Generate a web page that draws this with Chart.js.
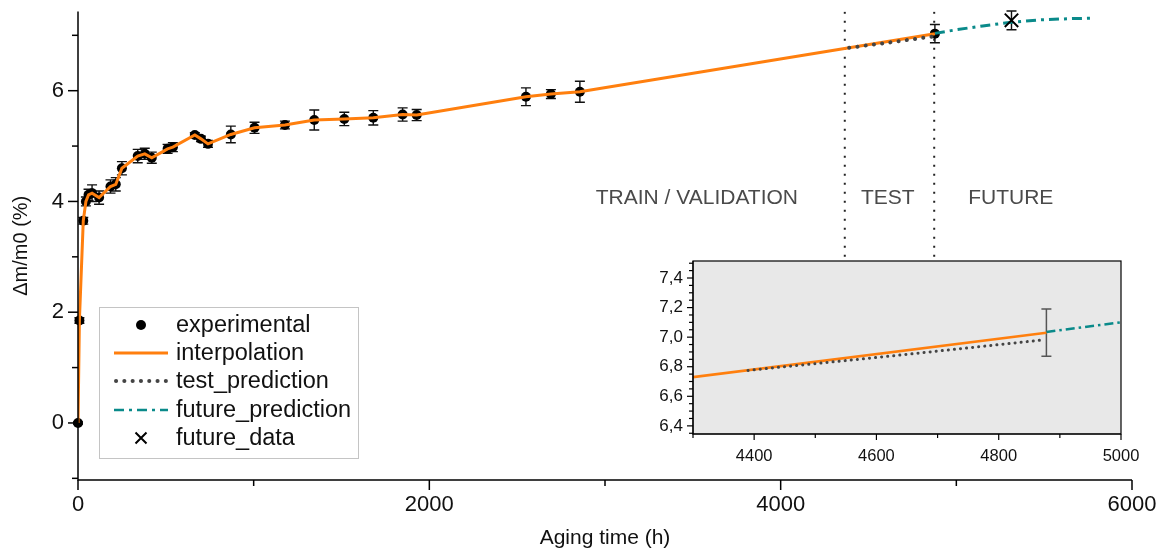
<!DOCTYPE html>
<html><head><meta charset="utf-8">
<script src="https://cdn.jsdelivr.net/npm/chart.js@4/dist/chart.umd.min.js"></script>
<style>
html,body{margin:0;padding:0;background:#fff;}
#wrap{position:relative;width:1167px;height:551px;overflow:hidden;}
#main{position:absolute;left:0;top:0;}
#inset{position:absolute;left:630px;top:250px;}
</style></head><body>
<div id="wrap"><canvas id="main" width="1167" height="551"></canvas><canvas id="inset" width="537" height="230"></canvas></div>
<script>
// ---------- data ----------
const expX = [0, 8, 30, 45, 60, 80, 120, 185, 215, 250, 340, 380, 420, 510, 540, 665, 700, 740, 870, 1005, 1178, 1345, 1516, 1681, 1848, 1928, 2550, 2692, 2857, 4878];
const expY = [0, 1.85, 3.65, 4.0, 4.12, 4.15, 4.07, 4.27, 4.31, 4.6, 4.82, 4.86, 4.79, 4.95, 4.98, 5.2, 5.13, 5.04, 5.21, 5.33, 5.38, 5.47, 5.49, 5.51, 5.57, 5.56, 5.89, 5.94, 5.98, 7.03];
const expErr = [0.02, 0.05, 0.06, 0.08, 0.1, 0.15, 0.12, 0.12, 0.12, 0.12, 0.12, 0.1, 0.1, 0.08, 0.08, 0.04, 0.05, 0.06, 0.15, 0.1, 0.07, 0.18, 0.12, 0.13, 0.12, 0.1, 0.16, 0.08, 0.19, 0.165];
const testX = [4390, 4630, 4870];
const testY = [6.775, 6.875, 6.98];
const futX = [4878, 5000, 5150, 5314, 5476, 5640, 5770];
const futY = [7.035, 7.10, 7.17, 7.235, 7.28, 7.30, 7.31];
const futDataX = [5314];
const futDataY = [7.27];
const futDataErr = [0.17];
const dividerX = [4365, 4874];
const dividerY = [3.0, 7.43];
const phaseLabels = ['TRAIN / VALIDATION', 'TEST', 'FUTURE'];
const phaseX = [3523, 4610, 5310];
const phaseY = [4.06, 4.06, 4.06];
const legendLabels = ['experimental', 'interpolation', 'test_prediction', 'future_prediction', 'future_data'];
const xTicks = [0, 1000, 2000, 3000, 4000, 5000, 6000];
const xTickLabels = [0, 2000, 4000, 6000];
const yTicks = [-1, 0, 1, 2, 3, 4, 5, 6, 7];
const yTickLabels = [0, 2, 4, 6];
const insetXTicks = [4300, 4400, 4500, 4600, 4700, 4800, 4900, 5000];
const insetXLabels = [4400, 4600, 4800, 5000];
const insetYTicks = [6.35, 6.4, 6.45, 6.5, 6.55, 6.6, 6.65, 6.7, 6.75, 6.8, 6.85, 6.9, 6.95, 7.0, 7.05, 7.1, 7.15, 7.2, 7.25, 7.3, 7.35, 7.4, 7.45, 7.5];
const insetYLabels = [6.4, 6.6, 6.8, 7.0, 7.2, 7.4];
const insetErrX = [4878];
const insetErrLow = [6.87];
const insetErrHigh = [7.19];

// ---------- styles ----------
const ORANGE = '#ff7f0e', TEAL = '#0a8a8a', DOTS = '#444444';
Chart.defaults.font.family = "'Liberation Sans', Arial, sans-serif";
Chart.defaults.color = '#111';
const pts = (xs, ys) => xs.map((x, i) => ({x, y: ys[i]}));
const has = (arr, v) => arr.some(a => Math.abs(a - v) < 1e-6);

const axesPlugin = {
  id: 'axesPlugin',
  afterDraw(chart, args, o) {
    const ctx = chart.ctx, ca = chart.chartArea, xs = chart.scales.x, ys = chart.scales.y;
    ctx.save();
    ctx.strokeStyle = '#000'; ctx.lineWidth = o.lw;
    if (o.box) { ctx.strokeRect(ca.left, ca.top, ca.right - ca.left, ca.bottom - ca.top); }
    ctx.beginPath(); ctx.moveTo(ca.left, ca.top); ctx.lineTo(ca.left, ca.bottom); ctx.lineTo(ca.right, ca.bottom); ctx.stroke();
    o.xt.forEach(v => { const p = xs.getPixelForValue(v); const l = has(o.xl, v) ? o.major : o.minor;
      ctx.beginPath(); ctx.moveTo(p, ca.bottom); ctx.lineTo(p, ca.bottom + l); ctx.stroke(); });
    o.yt.forEach(v => { const p = ys.getPixelForValue(v); const l = has(o.yl, v) ? o.major : o.minor;
      ctx.beginPath(); ctx.moveTo(ca.left, p); ctx.lineTo(ca.left - l, p); ctx.stroke(); });
    ctx.restore();
  }
};

const errPlugin = {
  id: 'errPlugin',
  beforeDatasetsDraw(chart, args, o) {
    const ctx = chart.ctx, xs = chart.scales.x, ys = chart.scales.y;
    ctx.save(); ctx.strokeStyle = o.color; ctx.lineWidth = o.lw;
    o.sets.forEach(s => {
      s.x.forEach((x, i) => {
        const px = xs.getPixelForValue(x), p1 = ys.getPixelForValue(s.lo[i]), p2 = ys.getPixelForValue(s.hi[i]);
        ctx.beginPath(); ctx.moveTo(px, p1); ctx.lineTo(px, p2);
        ctx.moveTo(px - o.cap, p1); ctx.lineTo(px + o.cap, p1);
        ctx.moveTo(px - o.cap, p2); ctx.lineTo(px + o.cap, p2); ctx.stroke();
      });
    });
    ctx.restore();
  }
};

const annoPlugin = {
  id: 'annoPlugin',
  afterDraw(chart) {
    const ctx = chart.ctx, xs = chart.scales.x, ys = chart.scales.y;
    ctx.save();
    ctx.font = "21px 'Liberation Sans', Arial, sans-serif"; ctx.fillStyle = '#4a4a4a';
    ctx.textAlign = 'center'; ctx.textBaseline = 'middle';
    phaseLabels.forEach((t, i) => ctx.fillText(t, xs.getPixelForValue(phaseX[i]), ys.getPixelForValue(phaseY[i])));
    // legend
    const L = 99.5, T = 307.5, W = 259, H = 151;
    ctx.fillStyle = '#fff'; ctx.fillRect(L, T, W, H);
    ctx.strokeStyle = '#c4c4c4'; ctx.lineWidth = 1; ctx.strokeRect(L, T, W, H);
    const rows = [325, 353, 381, 410, 438];
    const x1 = 114, x2 = 168, xc = 141;
    ctx.fillStyle = '#000'; ctx.beginPath(); ctx.arc(xc, rows[0], 5, 0, Math.PI * 2); ctx.fill();
    ctx.strokeStyle = ORANGE; ctx.lineWidth = 3; ctx.beginPath(); ctx.moveTo(x1, rows[1]); ctx.lineTo(x2, rows[1]); ctx.stroke();
    ctx.strokeStyle = DOTS; ctx.lineWidth = 4; ctx.lineCap = 'round'; ctx.setLineDash([0.1, 8.2]);
    ctx.beginPath(); ctx.moveTo(x1 + 2, rows[2]); ctx.lineTo(x2, rows[2]); ctx.stroke();
    ctx.lineCap = 'butt'; ctx.strokeStyle = TEAL; ctx.lineWidth = 2.5; ctx.setLineDash([10, 5, 3, 5]);
    ctx.beginPath(); ctx.moveTo(x1, rows[3]); ctx.lineTo(x2, rows[3]); ctx.stroke();
    ctx.setLineDash([]);
    ctx.strokeStyle = '#000'; ctx.lineWidth = 2; const r = 5.5;
    ctx.beginPath(); ctx.moveTo(xc - r, rows[4] - r); ctx.lineTo(xc + r, rows[4] + r); ctx.moveTo(xc + r, rows[4] - r); ctx.lineTo(xc - r, rows[4] + r); ctx.stroke();
    ctx.fillStyle = '#111'; ctx.textAlign = 'left'; ctx.font = "23.5px 'Liberation Sans', Arial, sans-serif";
    legendLabels.forEach((t, i) => ctx.fillText(t, 176, rows[i] + 1));
    ctx.restore();
  }
};

function noPadX(s, h) { s.height = h; s.paddingLeft = 0; s.paddingRight = 0; }
function noPadY(s, w) { s.width = w; s.paddingTop = 0; s.paddingBottom = 0; }

new Chart(document.getElementById('main'), {
  type: 'scatter',
  data: { datasets: [
    { label: 'test_prediction', data: pts(testX, testY), showLine: true, borderColor: DOTS, borderWidth: 4, borderDash: [0.1, 8.2], borderCapStyle: 'round', pointRadius: 0 },
    { label: 'interpolation', data: pts(expX, expY), showLine: true, borderColor: ORANGE, borderWidth: 3, pointRadius: 0, tension: 0 },
    { label: 'future_data', data: pts(futDataX, futDataY), pointStyle: 'crossRot', pointRadius: 9.5, borderColor: '#000', borderWidth: 2, backgroundColor: '#000' },
    { label: 'future_prediction', data: pts(futX, futY), showLine: true, borderColor: TEAL, borderWidth: 3, borderDash: [10, 5, 3, 5], pointRadius: 0 },
    { label: 'experimental', data: pts(expX, expY), pointRadius: 5, backgroundColor: '#000', borderWidth: 0, clip: false },
    { label: 'div1', data: pts([dividerX[0], dividerX[0]], dividerY), showLine: true, borderColor: '#222', borderWidth: 2, borderDash: [2, 7], pointRadius: 0 },
    { label: 'div2', data: pts([dividerX[1], dividerX[1]], dividerY), showLine: true, borderColor: '#222', borderWidth: 2, borderDash: [2, 7], pointRadius: 0 }
  ]},
  options: {
    responsive: false, animation: false, devicePixelRatio: 1,
    layout: { padding: { top: 10, right: 35, left: 0, bottom: 0 } },
    events: [],
    plugins: {
      legend: { display: false }, tooltip: { enabled: false },
      axesPlugin: { lw: 1.5, major: 10, minor: 6, xt: xTicks, xl: xTickLabels, yt: yTicks, yl: yTickLabels, box: false },
      errPlugin: { color: '#111', lw: 1.4, cap: 5, sets: [
        { x: expX, lo: expY.map((v, i) => v - expErr[i]), hi: expY.map((v, i) => v + expErr[i]) },
        { x: futDataX, lo: futDataY.map((v, i) => v - futDataErr[i]), hi: futDataY.map((v, i) => v + futDataErr[i]) }
      ]}
    },
    scales: {
      x: { type: 'linear', min: 0, max: 6000,
        afterFit(s) { noPadX(s, 71); },
        afterBuildTicks(s) { s.ticks = xTicks.map(v => ({ value: v })); },
        ticks: { autoSkip: false, maxRotation: 0, padding: 12, font: { size: 22 }, color: '#111', callback: v => has(xTickLabels, v) ? String(v) : '' },
        grid: { display: false, drawTicks: false }, border: { display: false },
        title: { display: true, text: 'Aging time (h)', font: { size: 21 }, color: '#111', padding: { top: 0, bottom: 0 } } },
      y: { type: 'linear', min: -1.03, max: 7.43,
        afterFit(s) { noPadY(s, 78); },
        afterBuildTicks(s) { s.ticks = yTicks.map(v => ({ value: v })); },
        ticks: { autoSkip: false, padding: 14, font: { size: 22 }, color: '#111', callback: v => has(yTickLabels, v) ? String(v) : '' },
        grid: { display: false, drawTicks: false }, border: { display: false },
        title: { display: true, text: 'Δm/m0 (%)', font: { size: 20 }, color: '#111', padding: { top: 9, bottom: 0 } } }
    }
  },
  plugins: [axesPlugin, errPlugin, annoPlugin]
});

const insetBg = {
  id: 'insetBg',
  beforeDraw(chart) {
    const ctx = chart.ctx, ca = chart.chartArea;
    ctx.save(); ctx.fillStyle = '#e8e8e8'; ctx.fillRect(ca.left, ca.top, ca.right - ca.left, ca.bottom - ca.top); ctx.restore();
  }
};

new Chart(document.getElementById('inset'), {
  type: 'scatter',
  data: { datasets: [
    { label: 'test_prediction', data: pts(testX, testY), showLine: true, borderColor: DOTS, borderWidth: 3, borderDash: [0.1, 6], borderCapStyle: 'round', pointRadius: 0 },
    { label: 'interpolation', data: pts(expX, expY), showLine: true, borderColor: ORANGE, borderWidth: 2.5, pointRadius: 0, tension: 0 },
    { label: 'future_prediction', data: pts(futX, futY), showLine: true, borderColor: TEAL, borderWidth: 2.5, borderDash: [9, 4, 2.5, 4], pointRadius: 0 }
  ]},
  options: {
    responsive: false, animation: false, devicePixelRatio: 1, events: [],
    layout: { padding: { top: 11, right: 46, left: 0, bottom: 0 } },
    plugins: {
      legend: { display: false }, tooltip: { enabled: false },
      axesPlugin: { lw: 1.2, major: 6, minor: 4, xt: insetXTicks, xl: insetXLabels, yt: insetYTicks, yl: insetYLabels, box: true },
      errPlugin: { color: '#555', lw: 1.5, cap: 5, sets: [ { x: insetErrX, lo: insetErrLow, hi: insetErrHigh } ] }
    },
    scales: {
      x: { type: 'linear', min: 4300, max: 5000,
        afterFit(s) { noPadX(s, 46); },
        afterBuildTicks(s) { s.ticks = insetXTicks.map(v => ({ value: v })); },
        ticks: { autoSkip: false, maxRotation: 0, padding: 13, font: { size: 16.5 }, color: '#111', callback: v => has(insetXLabels, v) ? String(v) : '' },
        grid: { display: false, drawTicks: false }, border: { display: false } },
      y: { type: 'linear', min: 6.345, max: 7.515,
        afterFit(s) { noPadY(s, 63); },
        afterBuildTicks(s) { s.ticks = insetYTicks.map(v => ({ value: v })); },
        ticks: { autoSkip: false, padding: 10, font: { size: 17 }, color: '#111', callback: v => has(insetYLabels, v) ? v.toFixed(1).replace('.', ',') : '' },
        grid: { display: false, drawTicks: false }, border: { display: false } }
    }
  },
  plugins: [insetBg, axesPlugin, errPlugin]
});
</script>
</body></html>
